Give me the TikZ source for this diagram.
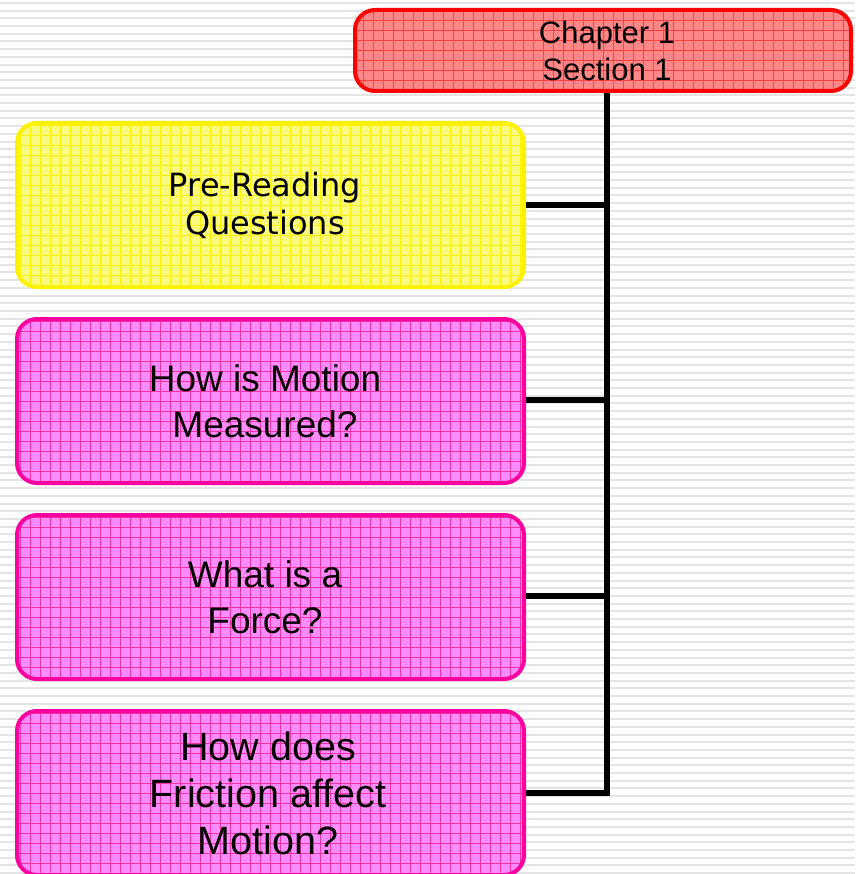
\documentclass[tikz,border=0pt]{standalone}
\usepackage{fontspec}
\setmainfont{Liberation Sans}
\newfontfamily\verd{DejaVu Sans}
\definecolor{pinkborder}{RGB}{255,0,160}
\definecolor{redfill}{RGB}{255,135,135}
\definecolor{yelfill}{RGB}{248,250,130}
\definecolor{pinkfill}{RGB}{255,140,255}
\definecolor{stripe}{RGB}{228,228,228}
\begin{document}
\begin{tikzpicture}[x=1pt,y=-1pt,
  gridbox/.style={rectangle, rounded corners=20pt, line width=4pt,
    minimum width=507pt, minimum height=164pt, align=center, inner sep=0pt},
  redbox/.style={gridbox, draw=red, fill=redfill, minimum height=81pt, minimum width=496pt,
    path picture={\draw[red!75, line width=0.6pt, step=10pt]
      (path picture bounding box.south west) grid (path picture bounding box.north east);}},
  yelbox/.style={gridbox, draw=yellow, fill=yelfill,
    path picture={\draw[yellow, line width=0.6pt, step=10pt]
      (path picture bounding box.south west) grid (path picture bounding box.north east);}},
  pinkbox/.style={gridbox, draw=pinkborder, fill=pinkfill,
    path picture={\draw[magenta!80, line width=0.6pt, step=10pt]
      (path picture bounding box.south west) grid (path picture bounding box.north east);}},
  boxtext/.style={align=center, inner sep=0pt},
  conn/.style={draw=black, line width=5.5pt, line join=miter}
]
\useasboundingbox (0,0) rectangle (855,874);
\fill[white] (0,0) rectangle (855,874);
\foreach \i in {0,...,114} {
  \draw[stripe, line width=2pt] (0,\i*7.7+3) -- (855,\i*7.7+3);
}
\node[redbox, font=\fontsize{31}{37}\selectfont] (top) at (603,50.5) {};
\node[boxtext, font=\fontsize{31}{37}\selectfont] (toptext) at (607,51) {Chapter 1\\Section 1};
\node[yelbox] (b1) at (270.5,205) {};
\node[boxtext, font=\verd\fontsize{32}{38}\selectfont] (b1text) at (265,205) {Pre-Reading\\ Questions};
\node[pinkbox] (b2) at (270.5,401) {};
\node[boxtext, font=\fontsize{37}{46}\selectfont] (b2text) at (265,401) {How is Motion\\Measured?};
\node[pinkbox] (b3) at (270.5,597) {};
\node[boxtext, font=\fontsize{37}{46}\selectfont] (b3text) at (265,597) {What is a\\Force?};
\node[pinkbox] (b4) at (270.5,793) {};
\node[boxtext, font=\fontsize{39.5}{47}\selectfont] (b4text) at (268,793) {How does\\Friction affect\\Motion?};
\coordinate (j1) at (607,205);
\coordinate (j2) at (607,400);
\coordinate (j3) at (607,596);
\coordinate (j4) at (607,793);
\draw[conn] (b4.east |- j4) -- (j4) -- (top.south -| j4);
\draw[conn] (b1.east |- j1) -- (j1);
\draw[conn] (b2.east |- j2) -- (j2);
\draw[conn] (b3.east |- j3) -- (j3);
\end{tikzpicture}
\end{document}
